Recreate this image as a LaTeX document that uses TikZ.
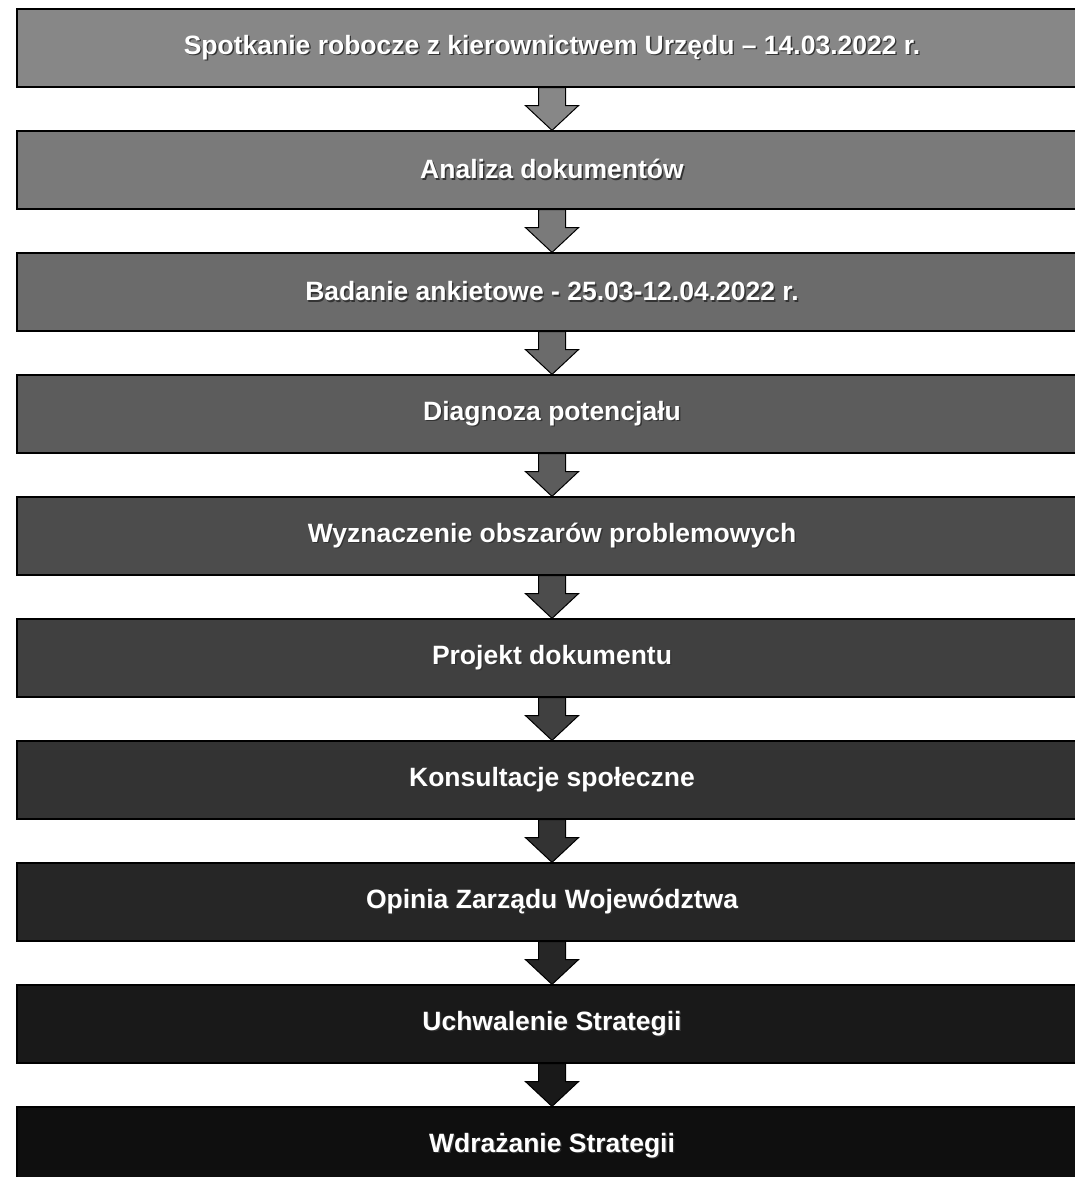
\documentclass[tikz,border=0pt]{standalone}
\usepackage{fontspec}
\setmainfont{Liberation Sans}
\usetikzlibrary{calc}
\definecolor{c1}{gray}{0.53}
\definecolor{c2}{gray}{0.48}
\definecolor{c3}{gray}{0.42}
\definecolor{c4}{gray}{0.36}
\definecolor{c5}{gray}{0.30}
\definecolor{c6}{gray}{0.25}
\definecolor{c7}{gray}{0.20}
\definecolor{c8}{gray}{0.15}
\definecolor{c9}{gray}{0.10}
\definecolor{c10}{gray}{0.06}
\newcommand\shtxt[1]{\makebox[0pt][l]{\kern1.4pt\raisebox{-1.4pt}{\color{black!80}#1}}#1}
\newcommand\flowarrow[3]{%
  \filldraw[arrowbody,fill=#3]
    ([xshift=-13.5pt]#1.south) -- ([xshift=-13.5pt,yshift=-18pt]#1.south)
    -- ([xshift=-26.5pt,yshift=-18pt]#1.south) -- (#2.north)
    -- ([xshift=26.5pt,yshift=-18pt]#1.south) -- ([xshift=13.5pt,yshift=-18pt]#1.south)
    -- ([xshift=13.5pt]#1.south) -- cycle;}
\tikzset{
  stepbox/.style={draw=black, line width=1.2pt, minimum width=1070pt, minimum height=78pt,
    inner sep=0pt, text=white, font=\fontsize{26.5}{30}\selectfont\bfseries},
  arrowbody/.style={draw=black, line width=1pt, line join=miter}
}
\begin{document}
\begin{tikzpicture}[x=1pt,y=-1pt]
\path[use as bounding box] (0,0) rectangle (1075,1177);
\fill[white] (0,0) rectangle (1075,1177);
\clip (0,0) rectangle (1075,1177);
\node[stepbox, fill=c1] (b1) at (552,48) {\shtxt{Spotkanie robocze z kierownictwem Urzędu – 14.03.2022 r.}};
\node[stepbox, fill=c2] (b2) at (552,170) {\shtxt{Analiza dokumentów}};
\node[stepbox, fill=c3] (b3) at (552,292) {\shtxt{Badanie ankietowe - 25.03-12.04.2022 r.}};
\node[stepbox, fill=c4] (b4) at (552,414) {\shtxt{Diagnoza potencjału}};
\node[stepbox, fill=c5] (b5) at (552,536) {\shtxt{Wyznaczenie obszarów problemowych}};
\node[stepbox, fill=c6] (b6) at (552,658) {\shtxt{Projekt dokumentu}};
\node[stepbox, fill=c7] (b7) at (552,780) {\shtxt{Konsultacje społeczne}};
\node[stepbox, fill=c8] (b8) at (552,902) {\shtxt{Opinia Zarządu Województwa}};
\node[stepbox, fill=c9] (b9) at (552,1024) {\shtxt{Uchwalenie Strategii}};
\node[stepbox, fill=c10] (b10) at (552,1146) {\shtxt{Wdrażanie Strategii}};
\flowarrow{b1}{b2}{c1}
\flowarrow{b2}{b3}{c2}
\flowarrow{b3}{b4}{c3}
\flowarrow{b4}{b5}{c4}
\flowarrow{b5}{b6}{c5}
\flowarrow{b6}{b7}{c6}
\flowarrow{b7}{b8}{c7}
\flowarrow{b8}{b9}{c8}
\flowarrow{b9}{b10}{c9}
\end{tikzpicture}
\end{document}
